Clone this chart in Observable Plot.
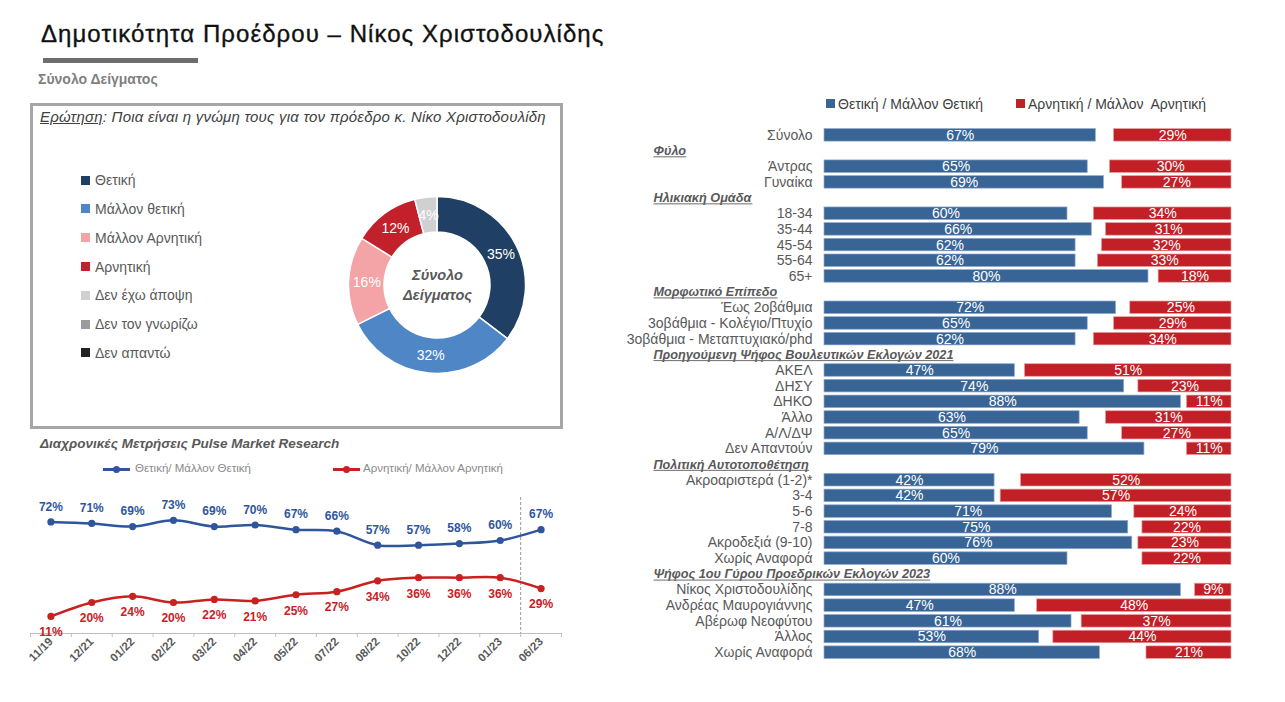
<!DOCTYPE html>
<html><head><meta charset="utf-8">
<script src="https://cdn.jsdelivr.net/npm/d3@7"></script>
<script src="https://cdn.jsdelivr.net/npm/@observablehq/plot@0.6"></script>
<style>
body{margin:0;background:#fff;font-family:"Liberation Sans",Arial,sans-serif;}
#root{position:relative;width:1285px;height:702px;overflow:hidden;background:#fff;}
.abs{position:absolute;white-space:pre;line-height:1;}
svg{overflow:visible;}
</style></head><body><div id="root"></div>
<script>
// ---------- DATA ----------
const pageTitle = "Δημοτικότητα Προέδρου – Νίκος Χριστοδουλίδης";
const pageSubtitle = "Σύνολο Δείγματος";
const questionLabel = "Ερώτηση";
const questionText = ": Ποια είναι η γνώμη τους για τον πρόεδρο κ. Νίκο Χριστοδουλίδη";

const donutCategories = ["Θετική","Μάλλον θετική","Μάλλον Αρνητική","Αρνητική","Δεν έχω άποψη","Δεν τον γνωρίζω","Δεν απαντώ"];
const donutValues = [35, 32, 16, 12, 4, 0, 0];
const donutColors = ["#1f3f64","#4f86c6","#f4a3a6","#c2202b","#d0d0d2","#9b9b9d","#231f20"];
const donutCenter = "Σύνολο\nΔείγματος";

const trendTitle = "Διαχρονικές Μετρήσεις Pulse Market Research";
const trendSeries = ["Θετική/ Μάλλον Θετική","Αρνητική/ Μάλλον Αρνητική"];
const trendColors = ["#2f569c","#c8211f"];
const trendDates = ["11/19","12/21","01/22","02/22","03/22","04/22","05/22","07/22","08/22","10/22","12/22","01/23","06/23"];
const trendPositive = [72,71,69,73,69,70,67,66,57,57,58,60,67];
const trendNegative = [11,20,24,20,22,21,25,27,34,36,36,36,29];

const barSeries = ["Θετική / Μάλλον Θετική","Αρνητική / Μάλλον  Αρνητική"];
const barColors = ["#386595","#c21f27"];
const barRows = ["Σύνολο","Φύλο","Άντρας","Γυναίκα","Ηλικιακή Ομάδα","18-34","35-44","45-54","55-64","65+",
  "Μορφωτικό Επίπεδο","Έως 2οβάθμια","3οβάθμια - Κολέγιο/Πτυχίο","3οβάθμια - Μεταπτυχιακό/phd",
  "Προηγούμενη Ψήφος Βουλευτικών Εκλογών 2021","ΑΚΕΛ","ΔΗΣΥ","ΔΗΚΟ","Άλλο","Α/Λ/ΔΨ","Δεν Απαντούν",
  "Πολιτική Αυτοτοποθέτηση","Ακροαριστερά (1-2)*","3-4","5-6","7-8","Ακροδεξιά (9-10)","Χωρίς Αναφορά",
  "Ψήφος 1ου Γύρου Προεδρικών Εκλογών 2023","Νίκος Χριστοδουλίδης","Ανδρέας Μαυρογιάννης","Αβέρωφ Νεοφύτου","Άλλος","Χωρίς Αναφορά"];
const barPositive = [67,null,65,69,null,60,66,62,62,80,null,72,65,62,null,47,74,88,63,65,79,null,42,42,71,75,76,60,null,88,47,61,53,68];
const barNegative = [29,null,30,27,null,34,31,32,33,18,null,25,29,34,null,51,23,11,31,27,11,null,52,57,24,22,23,22,null,9,48,37,44,21];
const barScaleMax = 100.5;

// ---------- HELPERS ----------
const root = document.getElementById("root");
const FONT = "Liberation Sans, Arial, sans-serif";
function txt(s, left, baseline, size, css = {}) {
  const d = document.createElement("div");
  d.className = "abs";
  d.textContent = s;
  Object.assign(d.style, {left: left + "px", top: (baseline - 0.8465 * size) + "px", fontSize: size + "px"}, css);
  root.appendChild(d);
  return d;
}
function box(left, top, w, h, css = {}) {
  const d = document.createElement("div");
  d.className = "abs";
  Object.assign(d.style, {left: left + "px", top: top + "px", width: w + "px", height: h + "px"}, css);
  root.appendChild(d);
  return d;
}
function place(node, left, top) {
  node.style.position = "absolute";
  node.style.left = left + "px";
  node.style.top = top + "px";
  root.appendChild(node);
}

// ---------- HEADER ----------
txt(pageTitle, 41, 42, 24, {color: "#111", letterSpacing: "1.05px", webkitTextStroke: "0.35px #111"});
box(43, 58, 155, 5, {background: "#6d6d6d"});
txt(pageSubtitle, 38, 84, 14, {color: "#7f7f7f", fontWeight: "bold"});

// ---------- DONUT PANEL ----------
box(30, 103, 527, 320, {border: "3px solid #a6a6a6"});
const q = txt("", 40, 122, 15, {color: "#404040", fontStyle: "italic", letterSpacing: "0.22px"});
q.innerHTML = "<u>" + questionLabel + "</u>" + questionText;

donutCategories.forEach((c, i) => {
  const cy = 180 + i * 28.8;
  box(81, cy - 4.5, 9, 9, {background: donutColors[i]});
  txt(c, 95, cy + 5, 14, {color: "#595959"});
});

const pieArcs = d3.pie().sort(null).value(d => d)(donutValues);
const innerR = 0.53, outerR = 0.885;
const unitArc = d3.arc().innerRadius(innerR).outerRadius(outerR);
const donutLabels = pieArcs.filter(a => a.value > 0).map(a => {
  const [cx, cy] = unitArc.centroid(a);
  return {x: cx, y: -cy, label: a.value + "%"};
});
const donutMark = (index, scales) => {
  const cx = scales.x(0), cy = scales.y(0);
  const k = scales.x(1) - scales.x(0);
  const arc = d3.arc().innerRadius(innerR * k).outerRadius(outerR * k);
  const g = d3.create("svg:g").attr("transform", `translate(${cx},${cy})`);
  g.selectAll("path").data(pieArcs.filter(a => a.value > 0)).join("path")
    .attr("d", arc).attr("fill", a => donutColors[a.index])
    .attr("stroke", "#fff").attr("stroke-width", 1.5);
  return g.node();
};
const donut = Plot.plot({
  width: 200, height: 200, margin: 0,
  x: {domain: [-1, 1], axis: null}, y: {domain: [-1, 1], axis: null},
  style: {fontFamily: FONT, background: "transparent"},
  marks: [
    donutMark,
    Plot.text(donutLabels, {x: "x", y: "y", text: "label", fill: "#fff", fontSize: 14}),
    Plot.text([donutCenter], {frameAnchor: "middle", dy: -2, lineHeight: 1.36, fill: "#595959", fontSize: 14.5, fontWeight: "bold", fontStyle: "italic"})
  ]
});
place(donut, 336.5, 184.5);

// ---------- TREND PANEL ----------
txt(trendTitle, 40, 448, 13.5, {color: "#595959", fontWeight: "bold", fontStyle: "italic"});
[[103, 135], [333, 363]].forEach(([lx, tx], i) => {
  box(lx, 468, 27, 2.5, {background: trendColors[i]});
  box(lx + 10, 465.5, 7, 7, {background: trendColors[i], borderRadius: "50%"});
  txt(trendSeries[i], tx, 473, 11.5, {color: "#8a8a8a"});
});

const trendData = trendDates.flatMap((d, i) => [
  {i, date: d, s: 0, v: trendPositive[i]},
  {i, date: d, s: 1, v: trendNegative[i]}
]);
const tickBounds = d3.range(trendDates.length + 1).map(i => i - 0.5);
const trend = Plot.plot({
  width: 580, height: 220,
  marginLeft: 30, marginRight: 19, marginTop: 8, marginBottom: 57,
  x: {domain: [-0.5, trendDates.length - 0.5], axis: null},
  y: {domain: [0, 100], axis: null},
  style: {fontFamily: FONT, background: "transparent"},
  marks: [
    Plot.ruleY([0], {stroke: "#bfbfbf", strokeWidth: 1}),
    Plot.ruleX(tickBounds, {y1: 0, y2: 0, insetBottom: -4, stroke: "#bfbfbf"}),
    Plot.ruleX([trendDates.length - 1.5], {stroke: "#7f7f7f", strokeDasharray: "3,2", strokeWidth: 0.8, insetTop: 19}),
    Plot.axisX(d3.range(trendDates.length), {tickFormat: i => trendDates[i], tickRotate: -45, tickSize: 0, tickPadding: 6, fontWeight: "bold", fontSize: 11.5, fill: "#595959", label: null}),
    Plot.line(trendData, {x: "i", y: "v", z: "s", stroke: d => trendColors[d.s], strokeWidth: 2.5, curve: "catmull-rom"}),
    Plot.dot(trendData, {x: "i", y: "v", fill: d => trendColors[d.s], r: 3.6}),
    Plot.text(trendData.filter(d => d.s === 0), {x: "i", y: "v", text: d => d.v + "%", dy: -15, fill: trendColors[0], fontWeight: "bold", fontSize: 12}),
    Plot.text(trendData.filter(d => d.s === 1), {x: "i", y: "v", text: d => d.v + "%", dy: 16, fill: trendColors[1], fontWeight: "bold", fontSize: 12})
  ]
});
place(trend, 0, 470);

// ---------- BAR PANEL ----------
[[826, 838], [1016, 1028]].forEach(([sx, tx], i) => {
  box(sx, 98.5, 9, 9, {background: barColors[i]});
  txt(barSeries[i], tx, 108.5, 14, {color: "#404040"});
});

const barData = barRows.map((label, row) => ({row, label, pos: barPositive[row], neg: barNegative[row], header: barPositive[row] == null}));
const valueRows = barData.filter(d => !d.header);
const headerRows = barData.filter(d => d.header);
const headerSet = new Set(headerRows.map(d => d.label));
const bars = Plot.plot({
  width: 640, height: 533,
  marginLeft: 224, marginRight: 9, marginTop: 0, marginBottom: 0,
  x: {domain: [0, barScaleMax], axis: null},
  y: {domain: d3.range(barRows.length), axis: null, paddingInner: 0.2, paddingOuter: 0.1, round: false},
  style: {fontFamily: FONT, background: "transparent"},
  marks: [
    Plot.barX(valueRows, {y: "row", x1: 0, x2: "pos", fill: barColors[0], stroke: "#8eaad0", strokeWidth: 0.7}),
    Plot.barX(valueRows, {y: "row", x1: d => barScaleMax - d.neg, x2: barScaleMax, fill: barColors[1], stroke: "#e8a0a0", strokeWidth: 0.7}),
    Plot.text(valueRows, {y: "row", x: d => d.pos / 2, text: d => d.pos + "%", fill: "#fff", fontSize: 14}),
    Plot.text(valueRows, {y: "row", x: d => barScaleMax - d.neg / 2, text: d => d.neg + "%", fill: "#fff", fontSize: 14}),
    Plot.text(valueRows, {y: "row", x: 0, dx: -12, text: "label", textAnchor: "end", fill: "#595959", fontSize: 14}),
    Plot.text(headerRows, {y: "row", x: 0, dx: -171, text: "label", textAnchor: "start", fill: "#595959", fontSize: 12.7, fontWeight: "bold", fontStyle: "italic"})
  ]
});
place(bars, 600, 127);
// underline the group headers
Array.from(bars.querySelectorAll("text")).filter(t => headerSet.has(t.textContent) && t.getAttribute("text-anchor") !== "end").forEach(t => {
  const b = t.getBBox();
  const y = b.y + b.height * 0.81 + 1.4;
  const ln = document.createElementNS("http://www.w3.org/2000/svg", "line");
  ln.setAttribute("x1", b.x); ln.setAttribute("x2", b.x + b.width);
  ln.setAttribute("y1", y); ln.setAttribute("y2", y);
  ln.setAttribute("stroke", "#6b6b6b"); ln.setAttribute("stroke-width", "1");
  const tr = t.getAttribute("transform");
  if (tr) ln.setAttribute("transform", tr);
  t.parentNode.appendChild(ln);
});
</script></body></html>
